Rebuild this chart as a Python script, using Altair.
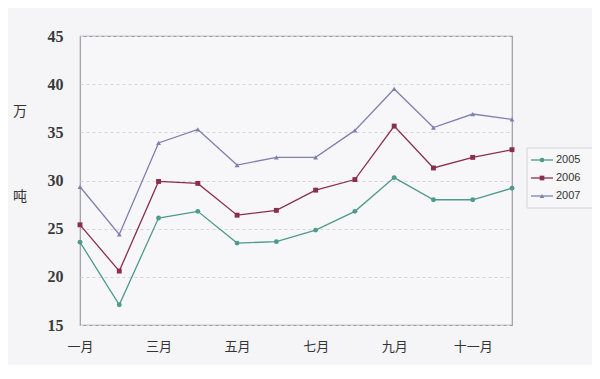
import altair as alt
import pandas as pd

months = ["一月", "二月", "三月", "四月", "五月", "六月", "七月", "八月", "九月", "十月", "十一月", "十二月"]
shown_months = ["一月", "三月", "五月", "七月", "九月", "十一月"]
s2005 = [23.6, 17.1, 26.1, 26.8, 23.5, 23.65, 24.85, 26.8, 30.3, 28.0, 28.0, 29.2]
s2006 = [25.4, 20.6, 29.9, 29.7, 26.4, 26.9, 29.0, 30.1, 35.65, 31.3, 32.4, 33.2]
s2007 = [29.35, 24.4, 33.9, 35.3, 31.6, 32.4, 32.4, 35.2, 39.5, 35.5, 36.9, 36.35]
series_names = ["2005", "2006", "2007"]
colors = ["#4e9a8c", "#8a2d4e", "#8080b0"]
shapes = ["circle", "square", "triangle-up"]

rows = []
for name, vals in zip(series_names, [s2005, s2006, s2007]):
    for m, v in zip(months, vals):
        rows.append({"month": m, "value": v, "series": name})
df = pd.DataFrame(rows)

num_font = "Liberation Serif"
cjk_font = "Noto Sans CJK SC"

color_scale = alt.Scale(domain=series_names, range=colors)
shape_scale = alt.Scale(domain=series_names, range=shapes)

x = alt.X("month:O", sort=months, scale=alt.Scale(type="point", padding=0),
          axis=alt.Axis(values=shown_months, title=None, labelAngle=0, ticks=False,
                        domain=False, labelFont=cjk_font, labelFontSize=13, labelPadding=15,
                        labelColor="#333333", grid=False))
y_scale = alt.Scale(domain=[15, 45], nice=False, zero=False)
y = alt.Y("value:Q", scale=y_scale,
          axis=alt.Axis(values=[15, 20, 25, 30, 35, 40, 45], title=None, ticks=False, domain=False,
                        labelFont=num_font, labelFontSize=16, labelFontWeight="bold",
                        labelPadding=17, labelColor="#3a3a3a",
                        grid=True, gridDash=[3, 3], gridColor="#d4d4dc", gridWidth=1))

lines = alt.Chart(df).mark_line(strokeWidth=1.3).encode(
    x=x, y=y, color=alt.Color("series:N", scale=color_scale, legend=None))
pts = alt.Chart(df).mark_point(filled=True, size=24, opacity=1).encode(
    x=x, y=y,
    color=alt.Color("series:N", scale=color_scale, legend=None),
    shape=alt.Shape("series:N", scale=shape_scale, legend=None))
main = alt.layer(lines, pts)

# manual legend
leg_df = pd.DataFrame({"series": series_names})
leg_y = alt.Y("series:N", scale=alt.Scale(type="point", domain=series_names, range=[124, 160], padding=0), axis=None)
box = alt.Chart(pd.DataFrame({"a": [0]})).mark_rect(fill="#f7f7f9", stroke="#d4d4da", strokeWidth=1).encode(
    x=alt.value(447), x2=alt.value(519), y=alt.value(112), y2=alt.value(172))
leg_rule = alt.Chart(leg_df).mark_rule(strokeWidth=1.3).encode(
    x=alt.value(451), x2=alt.value(473), y=leg_y,
    color=alt.Color("series:N", scale=color_scale, legend=None))
leg_pts = alt.Chart(leg_df).mark_point(filled=True, size=22, opacity=1).encode(
    x=alt.value(462), y=leg_y,
    color=alt.Color("series:N", scale=color_scale, legend=None),
    shape=alt.Shape("series:N", scale=shape_scale, legend=None))
leg_txt = alt.Chart(leg_df).mark_text(align="left", baseline="middle", font="Liberation Sans",
                                      fontSize=11, color="#333333").encode(
    x=alt.value(476), y=leg_y, text="series:N")
legend = alt.layer(box, leg_rule, leg_pts, leg_txt)

label_df = pd.DataFrame({"t": ["万", "吨"], "py": [76, 161]})
ylab = alt.Chart(label_df).mark_text(font=cjk_font, fontSize=14, color="#333333").encode(
    text="t:N", x=alt.value(-60), y=alt.Y("py:Q", scale=None, axis=None))

chart = alt.layer(main, legend, ylab).resolve_scale(y="independent").properties(
    width=432, height=289,
    background="#f5f5f7",
    autosize=alt.AutoSizeParams(type="none"),
    padding={"left": 72, "top": 28, "right": 80, "bottom": 40},
).configure_view(stroke="#9c9ca4", strokeWidth=1.2, fill="#f7f7f9")

chart.save("out.html", embed_options={"renderer": "svg", "actions": False})
